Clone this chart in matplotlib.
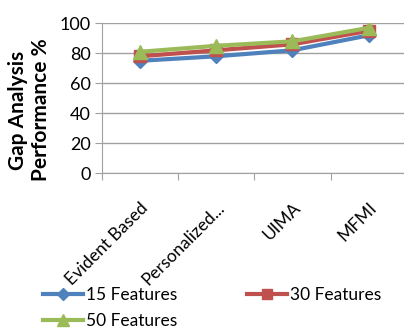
import numpy as np
import matplotlib.pyplot as plt

categories = ["Evident Based", "Personalized...", "UIMA", "MFMI"]
feat15 = [75, 78, 82, 92]
feat30 = [78, 82, 86, 95]
feat50 = [81, 85, 88, 97]
yticks = [0, 20, 40, 60, 80, 100]

plt.rcParams["font.family"] = ["Lato", "DejaVu Sans"]

fig = plt.figure(figsize=(4.04, 3.29), dpi=100)
ax = fig.add_axes([0.252, 0.474, 0.755, 0.455])

x = np.arange(len(categories))
l1, = ax.plot(x, feat15, color="#4F81BD", lw=3, marker="D", ms=7, label="15 Features")
l2, = ax.plot(x, feat30, color="#C0504D", lw=3, marker="s", ms=9, label="30 Features")
l3, = ax.plot(x, feat50, color="#9BBB59", lw=3, marker="^", ms=10, label="50 Features")

ax.set_xlim(-0.5, len(categories) - 0.5)
ax.set_ylim(0, 100)
ax.set_yticks(yticks)
ax.yaxis.grid(True, color="#A0A0A0", lw=1)
ax.set_axisbelow(True)

ax.set_xticks(np.arange(len(categories) + 1) - 0.5)
ax.set_xticklabels([])
ax.set_xticks(x, minor=True)
ax.set_xticklabels(categories, minor=True, rotation=45, ha="right", va="top",
                   rotation_mode="anchor", fontsize=12.5)
ax.tick_params(axis="x", which="minor", length=0, pad=19)
ax.tick_params(axis="x", which="major", length=5, color="#A0A0A0")
ax.tick_params(axis="y", length=5, color="#A0A0A0", labelsize=13, pad=3)

for s in ["top", "right"]:
    ax.spines[s].set_visible(False)
for s in ["left", "bottom"]:
    ax.spines[s].set_color("#A0A0A0")

ax.set_ylabel("Gap Analysis\nPerformance %", fontsize=15, fontweight="bold",
              linespacing=1.15)
ax.yaxis.set_label_coords(-0.168, 0.42)

fig.legend([l1, l3, l2], ["15 Features", "50 Features", "30 Features"], ncol=2,
           loc="upper left", bbox_to_anchor=(0.107, 0.128), frameon=False,
           fontsize=12.5, handlelength=2.3, handletextpad=0.15,
           columnspacing=4.05, labelspacing=0.6, borderaxespad=0, borderpad=0,
           markerscale=0.85)

fig.savefig("out.png", dpi=100)
